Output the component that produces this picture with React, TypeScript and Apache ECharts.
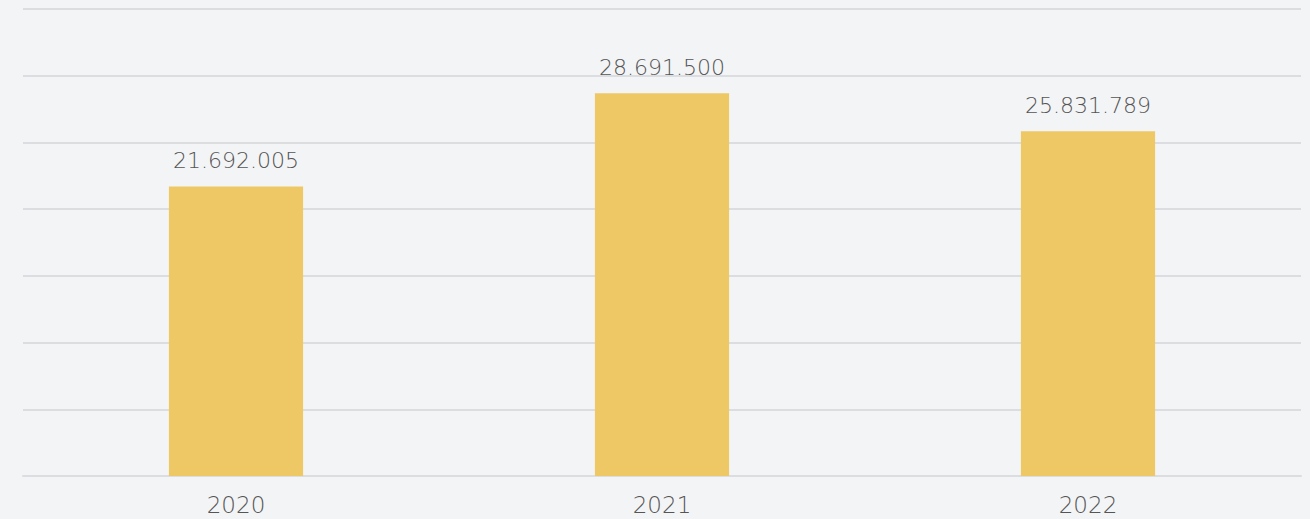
import React, { useEffect, useRef } from "react";
import * as echarts from "echarts";

const categories = ["2020", "2021", "2022"];
const values = [21692005, 28691500, 25831789];
const yMax = 35000000;
const yInterval = 5000000;

function fmt(v: number): string {
  return String(v).replace(/\B(?=(\d{3})+(?!\d))/g, ".");
}

const FONT = "'DejaVu Sans'";

export default function App() {
  const ref = useRef<HTMLDivElement>(null);
  useEffect(() => {
    if (!ref.current) return;
    const chart = echarts.init(ref.current, undefined, { renderer: "svg" });
    chart.setOption({
      animation: false,
      backgroundColor: "#f3f4f6",
      grid: { left: 23, right: 9, top: 9, bottom: 43, containLabel: false },
      xAxis: {
        type: "category",
        data: categories,
        axisTick: { show: false },
        axisLine: { show: true, lineStyle: { color: "#dcdde0", width: 2 } },
        axisLabel: {
          color: "#555",
          fontSize: 23,
          fontFamily: FONT,
          fontWeight: 200,
          margin: 17,
        },
      },
      yAxis: {
        type: "value",
        min: 0,
        max: yMax,
        interval: yInterval,
        axisLabel: { show: false },
        axisLine: { show: false },
        axisTick: { show: false },
        splitLine: { lineStyle: { color: "#dcdde0", width: 2 } },
      },
      series: [
        {
          type: "bar",
          data: values,
          barWidth: "31.5%",
          itemStyle: { color: "#eec864" },
          label: {
            show: true,
            position: "top",
            distance: 15,
            color: "#555",
            fontSize: 22,
            fontFamily: FONT,
            fontWeight: 200,
            formatter: (p: any) => fmt(p.value),
          },
        },
      ],
    });
    return () => chart.dispose();
  }, []);
  return (
    <div
      ref={ref}
      style={{ position: "fixed", left: 0, top: 0, width: 1310, height: 519 }}
    />
  );
}
